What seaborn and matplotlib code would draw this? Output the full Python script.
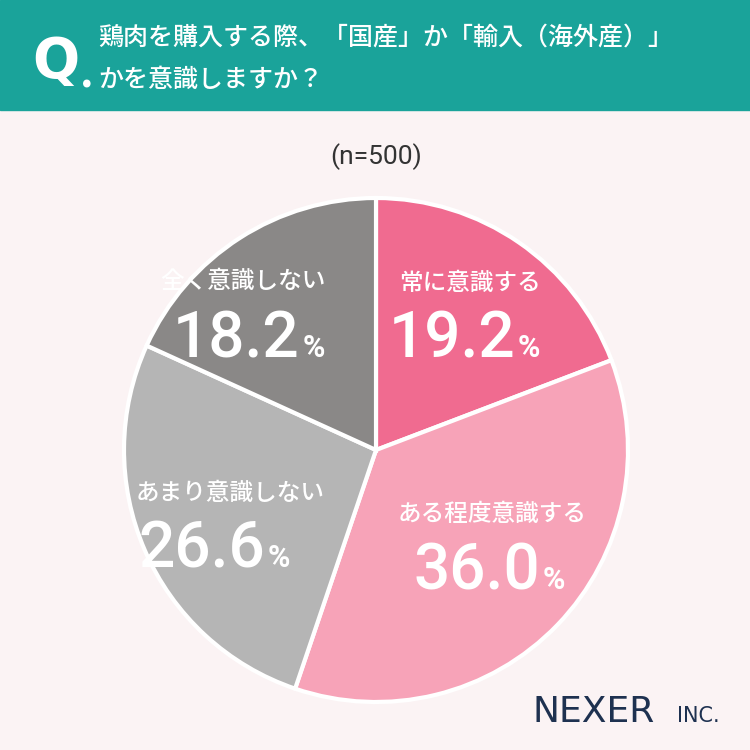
import matplotlib
matplotlib.use("Agg")
import matplotlib.pyplot as plt
import seaborn as sns
from matplotlib.patches import Rectangle

sns.set_theme(style="white")
plt.rcParams['font.family'] = ['Noto Sans CJK JP', 'DejaVu Sans']

categories = ["常に意識する", "ある程度意識する", "あまり意識しない", "全く意識しない"]
values = [19.2, 36.0, 26.6, 18.2]
colors = sns.color_palette(["#f06b90", "#f7a3b8", "#b5b5b5", "#8a8887"])
title_lines = ["鶏肉を購入する際、「国産」か「輸入（海外産）」", "かを意識しますか？"]
n_label = "(n=500)"

W = 750
fig = plt.figure(figsize=(7.5, 7.5), dpi=100, facecolor="#fbf3f4")

def fx(px): return px / W
def fy(py): return 1 - py / W

fig.patches.append(Rectangle((0, fy(110)), 1, 110 / W, transform=fig.transFigure,
                             color="#1aa39a", zorder=0))
fig.text(fx(32), fy(62), "Q", color="white", fontsize=40, fontweight="bold",
         va="center", ha="left", family=['DejaVu Sans'])
fig.text(fx(80), fy(76), ".", color="white", fontsize=30, fontweight="bold", va="center")
fig.text(fx(98), fy(38), title_lines[0], color="white", fontsize=18, va="center", fontweight="medium")
fig.text(fx(98), fy(80), title_lines[1], color="white", fontsize=18, va="center", fontweight="medium")
fig.text(fx(376), fy(157), n_label, color="#333333", fontsize=19, ha="center", va="center",
         family=['Roboto', 'DejaVu Sans'])

cx, cy, r = 376, 450, 252
ax = fig.add_axes([fx(cx - r), fy(cy + r), 2 * r / W, 2 * r / W])
ax.pie(values, colors=colors, startangle=90, counterclock=False,
       wedgeprops=dict(edgecolor="white", linewidth=3))
ax.set_xlim(-1, 1)
ax.set_ylim(-1, 1)
ax.set_aspect("equal")
ax.axis("off")

# (label center x, label y, number right edge x, number y)
label_pos = [(470, 283, 515, 340), (492, 514, 540, 572), (230, 493, 265, 550), (243, 281, 300, 340)]
for cat, v, (lx, ly, nx, ny) in zip(categories, values, label_pos):
    fig.text(fx(lx), fy(ly), cat, color="white", fontsize=17, ha="center", va="center",
             fontweight="medium")
    fig.text(fx(nx), fy(ny), f"{v:.1f}", color="white", fontsize=46, ha="right", va="center",
             family=['Roboto', 'DejaVu Sans'], fontweight="medium")
    fig.text(fx(nx + 3), fy(ny + 8), "%", color="white", fontsize=22, ha="left", va="center",
             family=['Roboto', 'DejaVu Sans'], fontweight="bold")

fig.text(fx(655), fy(712), "NEXER", color="#1e3150", fontsize=26, ha="right", va="center",
         family=['DejaVu Sans'])
fig.text(fx(720), fy(716), "INC.", color="#1e3150", fontsize=15, ha="right", va="center",
         family=['DejaVu Sans'])

fig.savefig("out.png", dpi=100, facecolor=fig.get_facecolor())
